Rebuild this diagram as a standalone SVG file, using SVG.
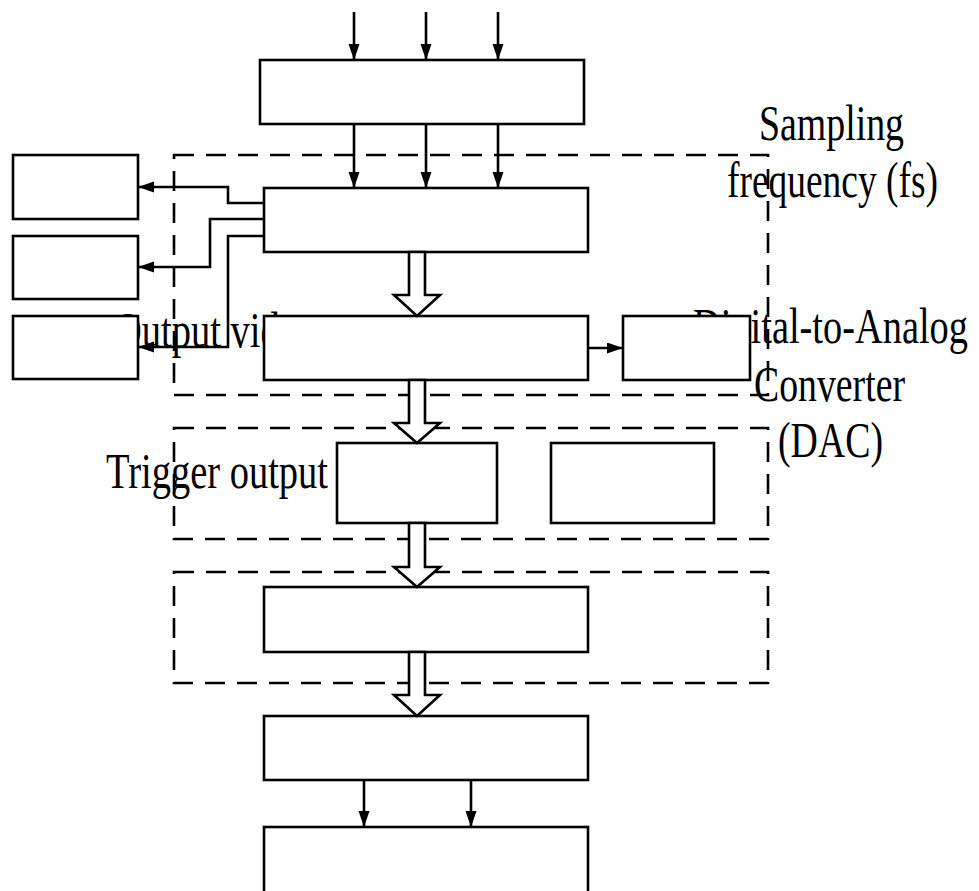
<svg xmlns="http://www.w3.org/2000/svg" width="979" height="891" viewBox="0 0 979 891">
<style>
.lbl{font-family:"Liberation Serif","Times New Roman",serif;font-size:50px;fill:#000}
.box{fill:#fff;stroke:#000;stroke-width:2.6}
.dash{fill:none;stroke:#000;stroke-width:2.6;stroke-dasharray:20 12}
.ln{fill:none;stroke:#000;stroke-width:2.6}
.hol{fill:#fff;stroke:#000;stroke-width:2.6;stroke-linejoin:miter}
</style>
<defs>
<marker id="ah" markerUnits="userSpaceOnUse" markerWidth="17" markerHeight="12" refX="16" refY="5.5" orient="auto">
<path d="M0,0 L16,5.5 L0,11 Z" fill="#000"/>
</marker>
</defs>
<rect width="979" height="891" fill="#fff"/>
<g id="labels">
<text class="lbl" x="759" y="140" textLength="145" lengthAdjust="spacingAndGlyphs">Sampling</text>
<text class="lbl" x="727" y="197" textLength="211" lengthAdjust="spacingAndGlyphs">frequency (fs)</text>
<text class="lbl" x="114" y="347" textLength="202" lengthAdjust="spacingAndGlyphs">Output video</text>
<text class="lbl" x="693" y="343" textLength="275" lengthAdjust="spacingAndGlyphs">Digital-to-Analog</text>
<text class="lbl" x="754" y="401" textLength="151" lengthAdjust="spacingAndGlyphs">Converter</text>
<text class="lbl" x="778" y="457" textLength="105" lengthAdjust="spacingAndGlyphs">(DAC)</text>
<text class="lbl" x="106" y="488" textLength="222" lengthAdjust="spacingAndGlyphs">Trigger output</text>
</g>
<g id="groups">
<rect class="dash" x="174" y="155" width="594" height="240"/>
<rect class="dash" x="174" y="428" width="594" height="111"/>
<rect class="dash" x="174" y="572" width="594" height="111"/>
</g>
<g id="connectors">
<line class="ln" x1="354" y1="12" x2="354" y2="60" marker-end="url(#ah)"/>
<line class="ln" x1="426" y1="12" x2="426" y2="60" marker-end="url(#ah)"/>
<line class="ln" x1="498" y1="12" x2="498" y2="60" marker-end="url(#ah)"/>
<line class="ln" x1="354" y1="124" x2="354" y2="188" marker-end="url(#ah)"/>
<line class="ln" x1="426" y1="124" x2="426" y2="188" marker-end="url(#ah)"/>
<line class="ln" x1="498" y1="124" x2="498" y2="188" marker-end="url(#ah)"/>
<polyline class="ln" points="264,203 228,203 228,187 138,187" marker-end="url(#ah)"/>
<polyline class="ln" points="264,219 210,219 210,267 138,267" marker-end="url(#ah)"/>
<polyline class="ln" points="264,236 228,236 228,347 138,347" marker-end="url(#ah)"/>
<line class="ln" x1="588" y1="348" x2="623" y2="348" marker-end="url(#ah)"/>
<line class="ln" x1="364" y1="780" x2="364" y2="827" marker-end="url(#ah)"/>
<line class="ln" x1="471" y1="780" x2="471" y2="827" marker-end="url(#ah)"/>
</g>
<g id="n-top"><rect class="box" x="260" y="60" width="324" height="64"/></g>
<g id="n-main"><rect class="box" x="264" y="188" width="324" height="64"/></g>
<g id="n-left1"><rect class="box" x="13" y="155" width="125" height="64"/></g>
<g id="n-left2"><rect class="box" x="13" y="236" width="125" height="63"/></g>
<g id="n-left3"><rect class="box" x="13" y="316" width="125" height="63"/></g>
<g id="n-mid"><rect class="box" x="264" y="316" width="324" height="64"/></g>
<g id="n-dac"><rect class="box" x="623" y="316" width="127" height="64"/></g>
<g id="n-trig1"><rect class="box" x="337" y="443" width="160" height="80"/></g>
<g id="n-trig2"><rect class="box" x="551" y="443" width="163" height="80"/></g>
<g id="n-l6"><rect class="box" x="264" y="587" width="324" height="65"/></g>
<g id="n-l7"><rect class="box" x="264" y="716" width="324" height="64"/></g>
<g id="n-l8"><rect class="box" x="264" y="827" width="324" height="68"/></g>
<g id="hollow-arrows">
<path class="hol" d="M409,252 L425,252 L425,295 L440,295 L417,316 L394,295 L409,295 Z"/>
<path class="hol" d="M409,380 L425,380 L425,423 L440,423 L417,443 L394,423 L409,423 Z"/>
<path class="hol" d="M409,523 L425,523 L425,567 L440,567 L417,587 L394,567 L409,567 Z"/>
<path class="hol" d="M409,652 L425,652 L425,695 L440,695 L417,716 L394,695 L409,695 Z"/>
</g>
</svg>
